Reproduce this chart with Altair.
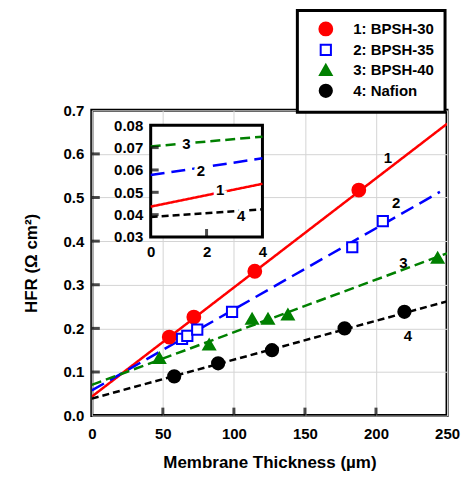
import altair as alt
import pandas as pd

# ---------------- data ----------------
series = ["1: BPSH-30", "2: BPSH-35", "3: BPSH-40", "4: Nafion"]
short = ["1", "2", "3", "4"]

red_x = [54.5, 71.8, 114.7, 187.9]
red_y = [0.180, 0.226, 0.331, 0.517]
blue_x = [63.5, 67.2, 74.2, 98.7, 183.3, 204.8]
blue_y = [0.176, 0.183, 0.197, 0.238, 0.386, 0.446]
green_x = [47.5, 82.6, 112.8, 124.0, 138.0, 243.4]
green_y = [0.132, 0.163, 0.222, 0.222, 0.232, 0.362]
black_x = [58.0, 88.9, 126.8, 177.9, 220.0]
black_y = [0.090, 0.120, 0.150, 0.200, 0.238]

# fitted lines (end points)
fit_x_start = [0, 0, 0, 0]
fit_x_end = [250, 245, 250, 250]
fit_y_start = [0.0436, 0.0577, 0.0705, 0.039]
fit_y_end = [0.669, 0.513, 0.372, 0.262]

# line labels in main plot
lab_x = [208.4, 214.2, 219.3, 222.4]
lab_y = [0.590, 0.487, 0.351, 0.183]

# inset (zoom near zero thickness)
inset_x_start = [0, 0, 0, 0]
inset_x_end = [4, 4, 4, 4]
inset_y_start = [0.0436, 0.0577, 0.0705, 0.039]
inset_y_end = [0.0538, 0.0652, 0.0749, 0.0424]
inset_lab_x = [2.49, 1.80, 1.28, 3.24]
inset_lab_y = [0.0512, 0.0596, 0.0718, 0.0394]
inset_box_x = [0, 4]
inset_box_y = [0.03, 0.08]

x_ticks = [0, 50, 100, 150, 200, 250]
y_ticks = [0.0, 0.1, 0.2, 0.3, 0.4, 0.5, 0.6, 0.7]
inset_x_ticks = [0, 2, 4]
inset_y_ticks = [0.03, 0.04, 0.05, 0.06, 0.07, 0.08]

# ---------------- styling / layout ----------------
W, H = 356, 306
strokes = ["#ff0000", "#0000ff", "#008000", "#000000"]
fills = ["#ff0000", "#ffffff", "#008000", "#000000"]
shapes = ["circle", "square", "triangle-up", "circle"]
sizes = [165, 105, 135, 150]
dashes = [[1, 0], [14, 7], [10, 5], [7, 4]]
FONT = "Liberation Sans"

# inset placement in pixels inside plot area
IN_L, IN_T, IN_W, IN_H = 59, 15, 112, 112
ix_per = IN_W / (inset_box_x[1] - inset_box_x[0])
iy_per = IN_H / (inset_box_y[1] - inset_box_y[0])
ix_dom = [inset_box_x[0] - IN_L / ix_per, inset_box_x[0] + (W - IN_L) / ix_per]
iy_top = inset_box_y[1] + IN_T / iy_per
iy_dom = [iy_top - H / iy_per, iy_top]

# lines are keyed by the short label so their (hidden) legends never merge
line_color_scale = alt.Scale(domain=short, range=strokes)
dash_scale = alt.Scale(domain=short, range=dashes)
stroke_scale = alt.Scale(domain=series, range=strokes)
fill_scale = alt.Scale(domain=series, range=fills)
shape_scale = alt.Scale(domain=series, range=shapes)
size_scale = alt.Scale(type="ordinal", domain=series, range=sizes)

# ---------------- tables ----------------
pts = pd.concat([
    pd.DataFrame({"x": red_x, "y": red_y, "s": series[0]}),
    pd.DataFrame({"x": blue_x, "y": blue_y, "s": series[1]}),
    pd.DataFrame({"x": green_x, "y": green_y, "s": series[2]}),
    pd.DataFrame({"x": black_x, "y": black_y, "s": series[3]}),
], ignore_index=True)

fit_rows = []
for i, k in enumerate(short):
    fit_rows.append({"x": fit_x_start[i], "y": fit_y_start[i], "k": k})
    fit_rows.append({"x": fit_x_end[i], "y": fit_y_end[i], "k": k})
fit = pd.DataFrame(fit_rows)

labs = pd.DataFrame({"x": lab_x, "y": lab_y, "t": short})

ins_rows = []
for i, k in enumerate(short):
    ins_rows.append({"ix": inset_x_start[i], "iy": inset_y_start[i], "k": k})
    ins_rows.append({"ix": inset_x_end[i], "iy": inset_y_end[i], "k": k})
ins = pd.DataFrame(ins_rows)
ins_labs = pd.DataFrame({"ix": inset_lab_x, "iy": inset_lab_y, "t": short})

X = alt.X("x:Q", scale=alt.Scale(domain=[0, 250], nice=False, zero=False),
          axis=alt.Axis(values=x_ticks, title="Membrane Thickness (µm)", grid=True,
                        ticks=False, domain=False, labelPadding=11, titlePadding=13,
                        labelFlush=False))
Y = alt.Y("y:Q", scale=alt.Scale(domain=[0, 0.7], nice=False, zero=False),
          axis=alt.Axis(values=y_ticks, format=".1f", title="HFR (Ω cm²)", grid=True,
                        ticks=False, domain=False, labelPadding=8, titlePadding=23,
                        labelFlush=False))

leg = alt.Legend(title=None)

fit_layer = alt.Chart(fit).mark_line(strokeWidth=2.5, clip=True).encode(
    x=X, y=Y,
    color=alt.Color("k:N", scale=line_color_scale, legend=None),
    strokeDash=alt.StrokeDash("k:N", scale=dash_scale, legend=None),
    detail="k:N",
)

pt_layer = alt.Chart(pts).mark_point(filled=True, strokeWidth=2, opacity=1).encode(
    x=X, y=Y,
    stroke=alt.Stroke("s:N", scale=stroke_scale, legend=leg),
    fill=alt.Fill("s:N", scale=fill_scale, legend=leg),
    shape=alt.Shape("s:N", scale=shape_scale, legend=leg),
    size=alt.Size("s:N", scale=size_scale, legend=leg),
)

lab_layer = alt.Chart(labs).mark_text(font=FONT, fontWeight="bold", fontSize=15,
                                      color="black").encode(x=X, y=Y, text="t:N")

xt = pd.DataFrame({"x": x_ticks[1:-1], "y": 0.0})
yt = pd.DataFrame({"x": 0.0, "y": y_ticks[1:-1]})
xtick_layer = alt.Chart(xt).mark_tick(orient="vertical", size=8, thickness=3,
                                      color="black", yOffset=-4).encode(x=X, y=Y)
ytick_layer = alt.Chart(yt).mark_tick(orient="horizontal", size=8, thickness=3,
                                      color="black", xOffset=4).encode(x=X, y=Y)

main = alt.layer(fit_layer, xtick_layer, ytick_layer, pt_layer, lab_layer)

# ---------------- inset ----------------
IX = alt.X("ix:Q", scale=alt.Scale(domain=ix_dom, nice=False, zero=False),
           axis=alt.Axis(orient="bottom", offset=-(H - IN_T - IN_H), values=inset_x_ticks,
                         grid=False, ticks=False, domain=False, labelPadding=8,
                         title=None, labelFlush=False))
IY = alt.Y("iy:Q", scale=alt.Scale(domain=iy_dom, nice=False, zero=False),
           axis=alt.Axis(orient="left", offset=-IN_L, values=inset_y_ticks, format=".2f",
                         grid=False, ticks=False, domain=False, labelPadding=8,
                         title=None, labelFlush=False))

box = pd.DataFrame({"ix": [inset_box_x[0]], "ix2": [inset_box_x[1]],
                    "iy": [inset_box_y[0]], "iy2": [inset_box_y[1]]})
box_layer = alt.Chart(box).mark_rect(fill="white", stroke="black", strokeWidth=3).encode(
    x=IX, x2="ix2:Q", y=IY, y2="iy2:Q")

ins_line = alt.Chart(ins).mark_line(strokeWidth=2.5).encode(
    x=IX, y=IY,
    color=alt.Color("k:N", scale=line_color_scale, legend=None),
    strokeDash=alt.StrokeDash("k:N", scale=dash_scale, legend=None),
    detail="k:N",
)
ins_halo = alt.Chart(ins_labs).mark_text(font=FONT, fontWeight="bold", fontSize=15,
                                         color="white", stroke="white", strokeWidth=6).encode(
    x=IX, y=IY, text="t:N")
ins_text = alt.Chart(ins_labs).mark_text(font=FONT, fontWeight="bold", fontSize=15,
                                         color="black").encode(x=IX, y=IY, text="t:N")

ixt = pd.DataFrame({"ix": inset_x_ticks[1:-1], "iy": inset_box_y[0]})
iyt = pd.DataFrame({"ix": inset_box_x[0], "iy": inset_y_ticks[1:-1]})
ixtick = alt.Chart(ixt).mark_tick(orient="vertical", size=8, thickness=3, color="black",
                                  yOffset=-4).encode(x=IX, y=IY)
iytick = alt.Chart(iyt).mark_tick(orient="horizontal", size=8, thickness=3, color="black",
                                  xOffset=4).encode(x=IX, y=IY)

inset = alt.layer(box_layer, ins_line, ixtick, iytick, ins_halo, ins_text)

chart = alt.layer(main, inset).resolve_scale(
    x="independent", y="independent"
).properties(
    width=W, height=H,
    autosize=alt.AutoSizeParams(type="none"),
    padding={"left": 84, "top": 102, "right": 16, "bottom": 56},
).configure_view(
    stroke="black", strokeWidth=3
).configure_axis(
    labelFont=FONT, labelFontWeight="bold", labelFontSize=15, labelColor="black",
    titleFont=FONT, titleFontWeight="bold", titleFontSize=17, titleColor="black",
    gridColor="#d4d4d4", gridWidth=1,
).configure_legend(
    orient="none", legendX=206, legendY=-100,
    strokeColor="black", strokeWidth=3, fillColor="white",
    padding=11, rowPadding=1, symbolOffset=10, labelOffset=20,
    labelFont=FONT, labelFontWeight="bold", labelFontSize=15, labelColor="black",
    symbolStrokeWidth=2,
)

chart.save("out.html", embed_options={"renderer": "svg", "actions": False})
